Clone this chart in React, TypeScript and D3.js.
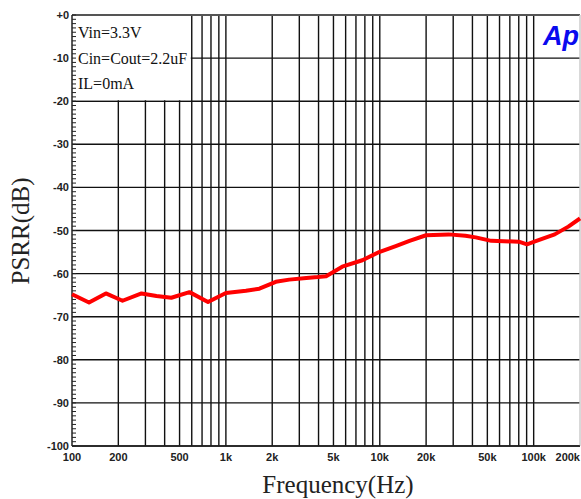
import React, { useMemo } from 'react';
import * as d3 from 'd3';

// 측정 데이터 (주파수 Hz, PSRR dB)
const freqs = [
  100, 129, 166, 213, 283, 354, 442, 580, 765, 1000, 1350, 1650, 2110, 2580, 3330, 3950, 4480,
  5700, 7700, 9900, 12700, 15600, 20000, 28000, 36000, 42000, 53000, 80000, 90500, 101000,
  137000, 168000, 200000,
];
const psrr = [
  -64.8, -66.7, -64.6, -66.3, -64.6, -65.2, -65.6, -64.3, -66.6, -64.5, -64.0, -63.5, -61.9,
  -61.4, -61.0, -60.8, -60.6, -58.4, -56.9, -55.0, -53.6, -52.4, -51.1, -50.9, -51.2, -51.6,
  -52.4, -52.6, -53.2, -52.6, -50.9, -49.1, -47.2,
];

const yTicks = [0, -10, -20, -30, -40, -50, -60, -70, -80, -90, -100];
const xLabelValues = [100, 200, 500, 1000, 2000, 5000, 10000, 20000, 50000, 100000, 200000];
const xLabelTexts = ['100', '200', '500', '1k', '2k', '5k', '10k', '20k', '50k', '100k', '200k'];
const legendLines = ['Vin=3.3V', 'Cin=Cout=2.2uF', 'IL=0mA'];

const W = 581;
const H = 499;
const plot = { left: 72, top: 15, right: 580, bottom: 446 };

export default function App() {
  const x = d3.scaleLog().domain([100, 200000]).range([plot.left, plot.right]);
  const y = d3.scaleLinear().domain([0, -100]).range([plot.top, plot.bottom]);

  // 로그 축 보조 격자선 (100 ~ 200k)
  const gridFreqs = useMemo(() => {
    const out: number[] = [];
    for (let dec = 100; dec <= 100000; dec *= 10) {
      for (let m = 1; m <= 9; m++) {
        const f = dec * m;
        if (f > 100 && f < 200000) out.push(f);
      }
    }
    return out;
  }, []);

  const minorY = d3.range(0, -101, -1);

  const line = d3
    .line<number>()
    .x((_, i) => x(freqs[i]))
    .y((d) => y(d));

  const legendBox = { x: plot.left, y: plot.top, w: x(600) - plot.left - 1, h: y(-20) - plot.top - 1 };
  const tickFont = "'Liberation Sans', Arial, sans-serif";
  const serif = "'Liberation Serif', 'Times New Roman', serif";

  return (
    <div style={{ position: 'absolute', left: 0, top: 0 }}>
      <svg width={W} height={H} style={{ display: 'block', background: '#fff' }}>
        {/* 세로 격자 */}
        {gridFreqs.map((f) => (
          <line key={f} x1={x(f)} x2={x(f)} y1={plot.top} y2={plot.bottom} stroke="#111" strokeWidth={1.4} />
        ))}
        {/* 가로 격자 */}
        {yTicks.map((t) => (
          <line key={t} x1={plot.left} x2={plot.right} y1={y(t)} y2={y(t)} stroke="#111" strokeWidth={1.4} />
        ))}

        {/* 범례 박스 */}
        <rect x={legendBox.x} y={legendBox.y} width={legendBox.w} height={legendBox.h} fill="#fff" />
        {legendLines.map((t, i) => (
          <text key={t} x={78} y={38 + i * 25.5} fontFamily={serif} fontSize={16} fill="#111">
            {t}
          </text>
        ))}

        {/* 프레임 */}
        <line x1={plot.left} x2={plot.right} y1={plot.top} y2={plot.top} stroke="#555" strokeWidth={2} />
        <line x1={plot.right} x2={plot.right} y1={plot.top} y2={plot.bottom} stroke="#ccc" strokeWidth={1.5} />
        <line x1={plot.left} x2={plot.right} y1={plot.bottom} y2={plot.bottom} stroke="#222" strokeWidth={1.5} />
        <line x1={plot.left} x2={plot.left} y1={plot.top} y2={plot.bottom} stroke="#222" strokeWidth={1.5} />

        {/* Y 보조 눈금 */}
        {minorY.map((t) => (
          <line key={t} x1={plot.left} x2={plot.left + 4} y1={y(t)} y2={y(t)} stroke="#222" strokeWidth={1} />
        ))}

        {/* Y 눈금 라벨 */}
        {yTicks.map((t) => (
          <text
            key={t}
            x={plot.left - 3}
            y={y(t) + 4}
            textAnchor="end"
            fontFamily={tickFont}
            fontWeight="bold"
            fontSize={11}
            fill="#222">
            {t === 0 ? '+0' : String(t)}
          </text>
        ))}

        {/* X 눈금 라벨 */}
        {xLabelValues.map((f, i) => (
          <text
            key={f}
            x={i === xLabelValues.length - 1 ? plot.right : x(f)}
            y={461}
            textAnchor={i === xLabelValues.length - 1 ? 'end' : 'middle'}
            fontFamily={tickFont}
            fontWeight="bold"
            fontSize={11}
            fill="#222">
            {xLabelTexts[i]}
          </text>
        ))}

        {/* 데이터 곡선 */}
        <path d={line(psrr) as string} fill="none" stroke="#ff0000" strokeWidth={4} strokeLinejoin="round" />

        {/* Ap 로고 */}
        <text
          x={543}
          y={45}
          fontFamily={tickFont}
          fontWeight="bold"
          fontStyle="italic"
          fontSize={27}
          fill="#0a0aee">
          Ap
        </text>

        {/* 축 제목 */}
        <text x={338} y={493} textAnchor="middle" fontFamily={serif} fontSize={25} fill="#222">
          Frequency(Hz)
        </text>
        <text
          transform={`translate(29, 231) rotate(-90)`}
          textAnchor="middle"
          fontFamily={serif}
          fontSize={25}
          fill="#222">
          PSRR(dB)
        </text>
      </svg>
    </div>
  );
}
